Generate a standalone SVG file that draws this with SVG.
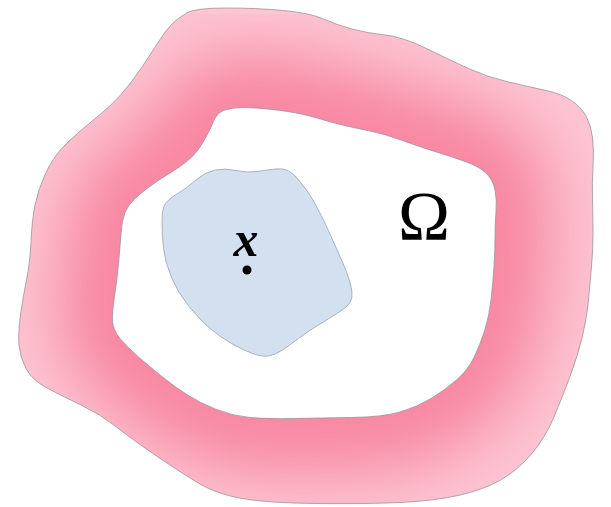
<svg xmlns="http://www.w3.org/2000/svg" width="611" height="507" viewBox="0 0 611 507">
<style>
.edge{fill:none;stroke:#a0919a;stroke-width:0.8}
.lbl{font-family:"Liberation Serif","DejaVu Serif",serif;fill:#000}
</style>
<defs>
<path id="outer" d="M 186.5,13 Q 195,8 226,8 Q 257,8 283.5,10.5 Q 310,13 323.5,19 Q 337,25 352,29 Q 367,33 385,35 Q 403,37 426.5,48.5 Q 450,60 468.5,68.5 Q 487,77 508.5,82 Q 530,87 546,90.5 Q 562,94 571.5,100.5 Q 581,107 586,116 Q 591,125 592.5,137.5 Q 594,150 593,166.5 Q 592,183 592.5,200 Q 593,217 593,233.5 Q 593,250 591.5,266.5 Q 590,283 588.5,300 Q 587,317 582.5,336 Q 578,355 570,376.5 Q 562,398 553.5,418 Q 545,438 531.5,454 Q 518,470 500.5,480 Q 483,490 458,495.5 Q 433,501 400,502.5 Q 367,504 317,503.5 Q 267,503 242,498.5 Q 217,494 200,484 Q 183,474 158,457 Q 133,440 116.5,427 Q 100,414 81,405 Q 62,396 47,388 Q 32,380 26,368.5 Q 20,357 19,345 Q 18,333 20.5,315 Q 23,297 26.5,280 Q 30,263 31,241.5 Q 32,220 35,205 Q 38,190 45.5,173.5 Q 53,157 65,145 Q 77,133 93.5,120 Q 110,107 121,94.5 Q 132,82 142,67 Q 152,52 159,41 Q 166,30 172,24 Q 178,18 186.5,13 Z"/>
<path id="inner" d="M 231,108.5 Q 240,107 256,108 Q 272,109 288,111.5 Q 304,114 317,118 Q 330,122 342.5,125 Q 355,128 370,131 Q 385,134 402.5,140.5 Q 420,147 436.5,152 Q 453,157 466.5,162 Q 480,167 486.5,173.5 Q 493,180 495,190 Q 497,200 496,211.5 Q 495,223 495,236.5 Q 495,250 494,266.5 Q 493,283 491,300 Q 489,317 484.5,331 Q 480,345 474,357.5 Q 468,370 456.5,380 Q 445,390 431,398.5 Q 417,407 400,412 Q 383,417 351.5,417.5 Q 320,418 293.5,418.5 Q 267,419 250,417.5 Q 233,416 216.5,409.5 Q 200,403 187.5,395 Q 175,387 162.5,377 Q 150,367 138.5,357 Q 127,347 120,338.5 Q 113,330 112.5,321.5 Q 112,313 114.5,296.5 Q 117,280 118.5,263.5 Q 120,247 121,233.5 Q 122,220 125,212.5 Q 128,205 135,198.5 Q 142,192 151,185.5 Q 160,179 170,173 Q 180,167 188.5,160 Q 197,153 203.5,141.5 Q 210,130 212.5,123.5 Q 215,117 218.5,113.5 Q 222,110 231,108.5 Z"/>
<clipPath id="ringClip"><use href="#outer"/></clipPath>
<filter id="soft" x="-30%" y="-30%" width="160%" height="160%"><feGaussianBlur stdDeviation="35"/></filter>
</defs>
<g id="ring">
<use href="#outer" fill="#fdc6d3"/>
<g clip-path="url(#ringClip)">
<use href="#inner" fill="none" stroke="#f7829e" stroke-width="105" filter="url(#soft)"/>
</g>
<use href="#outer" class="edge"/>
</g>
<g id="omega-region">
<use href="#inner" fill="#ffffff" stroke="#a0919a" stroke-width="0.8"/>
<text class="lbl" x="424" y="240" font-size="70" text-anchor="middle">Ω</text>
</g>
<g id="ball">
<path d="M 177,194 Q 187,188 196,180 Q 205,172 215,170 Q 225,168 236,170.5 Q 247,173 257,171.5 Q 267,170 275,169 Q 283,168 288,170.5 Q 293,173 300,181.5 Q 307,190 312,198.5 Q 317,207 322,217 Q 327,227 332,238.5 Q 337,250 342,261 Q 347,272 350,282.5 Q 353,293 351.5,299 Q 350,305 340,311.5 Q 330,318 318.5,325 Q 307,332 298.5,338.5 Q 290,345 282.5,350 Q 275,355 268.5,356 Q 262,357 252.5,353.5 Q 243,350 231.5,343.5 Q 220,337 210,328.5 Q 200,320 189,306.5 Q 178,293 171.5,277.5 Q 165,262 163.5,248.5 Q 162,235 162,222.5 Q 162,210 164.5,205 Q 167,200 177,194 Z" fill="#d3e0ef" stroke="#98a4b3" stroke-width="0.8"/>
<text class="lbl" x="246" y="256" font-size="50" font-weight="bold" font-style="italic" text-anchor="middle">x</text>
<circle cx="247" cy="270" r="4.5" fill="#000"/>
</g>
</svg>
